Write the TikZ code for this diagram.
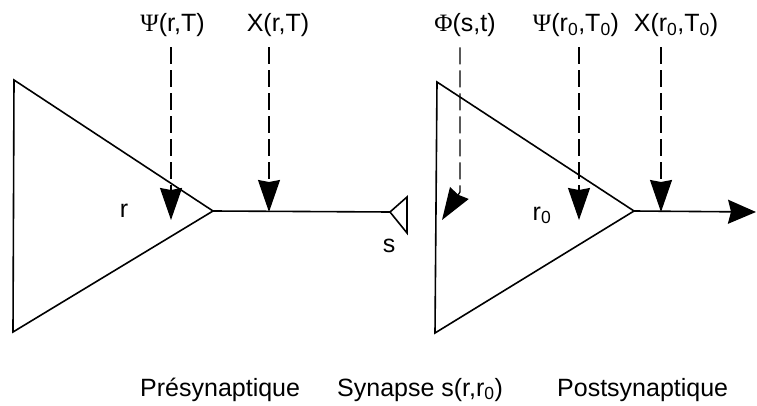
\documentclass[tikz,border=0pt]{standalone}
\usepackage{fontspec}
\setmainfont{Liberation Sans}
\newfontfamily\grkfont{Liberation Serif}
\usetikzlibrary{arrows.meta}

\begin{document}
\begin{tikzpicture}[
  x=1pt,y=-1pt,
  every node/.style={font=\fontsize{25}{30}\selectfont,inner sep=0pt},
  caption/.style={anchor=base west},
  cell/.style={line width=1.6pt,line join=miter},
  axon/.style={line width=1.6pt},
  probe/.style={dash pattern=on 17pt off 6pt,line width=1.3pt,shorten <=10pt,-{Stealth[length=32pt,width=22pt,inset=2pt]}}
]
\useasboundingbox (0,0) rectangle (757,406);

% top labels
\node[anchor=base] (psiA) at (172.5,32) {{\grkfont Ψ}(r,T)};
\node[anchor=base] (chiA) at (278,32) {X(r,T)};
\node[anchor=base] (phiS) at (465,32) {{\grkfont Φ}(s,t)};
\node[anchor=base] (psiB) at (576,32) {{\grkfont Ψ}(r\textsubscript{0},T\textsubscript{0})};
\node[anchor=base] (chiB) at (676,32) {X(r\textsubscript{0},T\textsubscript{0})};

% neurons
\coordinate (preTop) at (14,80);
\coordinate (axA) at (213,211);
\coordinate (preBot) at (13,332);
\coordinate (postTop) at (437,82);
\coordinate (axB) at (634,211);
\coordinate (postBot) at (435,333);
\coordinate (synTip) at (390,212);
\coordinate (outEnd) at (756,212);

\draw[cell] (preTop) -- (axA) -- (preBot) -- cycle;
\draw[cell] (postTop) -- (axB) -- (postBot) -- cycle;
\draw[axon] (axA) -- (synTip);
\draw[cell] (synTip) -- (407,197) -- (407,233) -- cycle;
\draw[axon,-{Stealth[length=28pt,width=24pt,inset=3pt]}] (axB) -- (outEnd);

\node[anchor=base] (rA) at (124,217) {r};
\node[anchor=base] (rB) at (542,220) {r\textsubscript{0}};
\node[anchor=base] (sLbl) at (389,252) {s};

% dashed inputs
\coordinate (psiAend) at (171,220);
\coordinate (chiAend) at (269,212);
\coordinate (phiKnee) at (460,192);
\coordinate (phiEnd) at (442,220);
\coordinate (psiBend) at (579,220);
\coordinate (chiBend) at (661,212);

\draw[probe] (psiA.south -| psiAend) -- (psiAend);
\draw[probe] (chiA.south -| chiAend) -- (chiAend);
\draw[probe] (phiS.south -| phiKnee) -- (phiKnee) -- (phiEnd);
\draw[probe] (psiB.south -| psiBend) -- (psiBend);
\draw[probe] (chiB.south -| chiBend) -- (chiBend);

% bottom labels
\node[caption] (pre) at (140,396) {Présynaptique};
\node[caption] (syn) at (337,396) {Synapse s(r,r\textsubscript{0})};
\node[caption] (post) at (557,396) {Postsynaptique};
\end{tikzpicture}
\end{document}
